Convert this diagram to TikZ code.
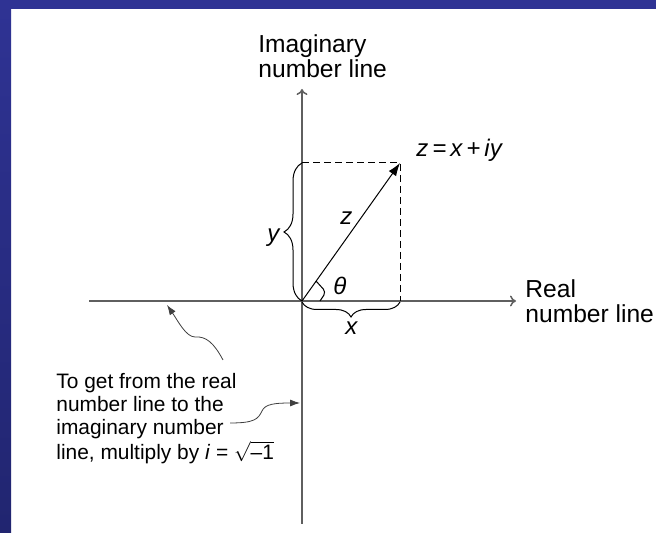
\documentclass[tikz,border=0pt]{standalone}
\usepackage{fontspec}
\setmainfont{Liberation Sans}
\usepackage{amsmath}
\usetikzlibrary{arrows.meta,decorations.pathreplacing}

\definecolor{frameblue}{RGB}{47,51,148}
\definecolor{framenavy}{RGB}{33,37,112}
\definecolor{axisgray}{RGB}{95,95,95}

\begin{document}
\begin{tikzpicture}[
  x=0.5pt, y=0.5pt,          % one unit = one pixel of the slide
  axis/.style={-{To[length=3pt,width=5.5pt]}, line width=0.75pt, draw=axisgray},
  vec/.style={-{Latex[length=6.5pt,width=4.5pt]}, line width=0.5pt},
  proj/.style={dash pattern=on 3.5pt off 2pt, line width=0.5pt},
  brc/.style={decorate, decoration={brace,amplitude=#1}, line width=0.5pt},
  note/.style={-{Latex[length=5pt,width=3.5pt]}, line width=0.4pt, draw=black!75},
  lbl/.style={inner sep=0pt, align=left, anchor=north west, font=\fontsize{12.3}{12.5}\selectfont},
  var/.style={inner sep=0pt, anchor=base west, font=\fontsize{12}{12}\selectfont\itshape}
]

% --- slide frame
\useasboundingbox (0,0) rectangle (656,533);
\fill[white] (0,0) rectangle (656,533);
\shade[top color=frameblue, bottom color=framenavy] (0,0) rectangle (11,533);
\fill[frameblue] (0,524) rectangle (656,533);

% --- number lines
\coordinate (O)       at (302,232);
\coordinate (imtop)   at (302,444);
\coordinate (imbot)   at (302,9);
\coordinate (releft)  at (89,232);
\coordinate (reright) at (516,232);
\draw[axis] (imbot) -- (imtop);
\draw[axis] (releft) -- (reright);

\node[lbl] (imlabel) at (258,499) {Imaginary\\number line};
\node[lbl] (relabel) at (525,254) {Real\\number line};

% ===== the point z and its parts =====
\coordinate (z)  at (400,370);
\coordinate (zy) at (302,370);
\coordinate (zx) at (400,232);
\draw[proj] (zy) -- (z) -- (zx);
\draw[vec] (O) -- (z);
\draw[line width=0.5pt, rounded corners=2pt] (316,252) -- (326,241) -- (320,232);

\draw[brc=9pt] (302,232) -- (302,370);
\draw[brc=7.5pt] (400,231) -- (302,231);

\node[var] (zeq)    at (416,376) {z\,=\,x\,+\,iy};
\node[var] (zlbl)   at (340,308) {z};
\node[var] (thlbl)  at (333,238) {θ};
\node[var] (ylbl)   at (267,291) {y};
\node[var] (xlbl)   at (345,198) {x};

% ===== note with its two arrows =====
\node[lbl, font=\fontsize{10.45}{11.5}\selectfont] (hint) at (56,160)
  {To get from the real\\number line to the\\imaginary number\\line, multiply by \textit{i} = $\sqrt{\mbox{–1}}$};

\coordinate (noteA)  at (223,173);
\coordinate (realpt) at (167,228);
\draw[note] (noteA) .. controls (214,190) and (206,197) .. (195,196)
  .. controls (186,196) and (178,212) .. (realpt);

\coordinate (noteB) at (230,110);
\coordinate (impt)  at (300,130);
\draw[note] (noteB) .. controls (255,110) and (258,114) .. (262,122)
  .. controls (265,129) and (275,130) .. (impt);

\end{tikzpicture}
\end{document}
